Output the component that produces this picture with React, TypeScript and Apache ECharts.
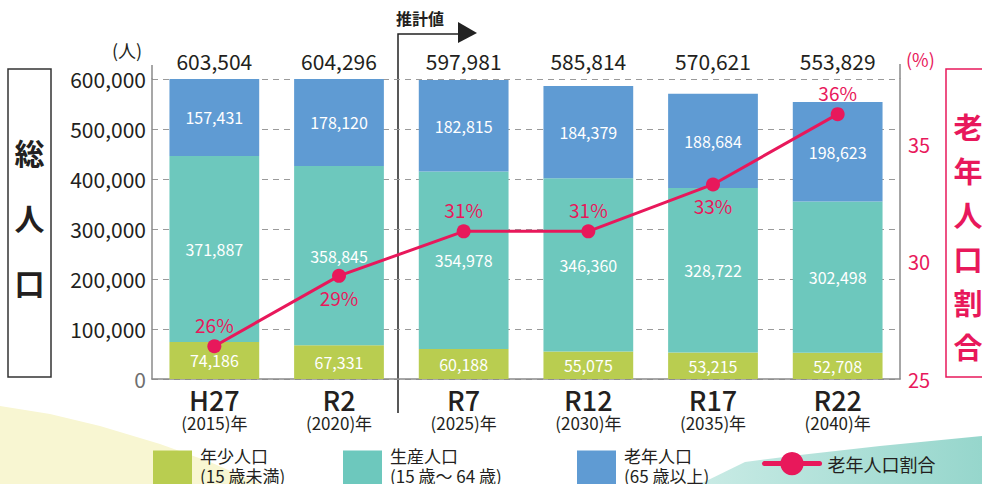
import React, { useEffect, useRef } from "react";
import * as echarts from "echarts";

const categories = ["H27", "R2", "R7", "R12", "R17", "R22"];
const years = ["2015", "2020", "2025", "2030", "2035", "2040"];
const youth = [74186, 67331, 60188, 55075, 53215, 52708];
const working = [371887, 358845, 354978, 346360, 328722, 302498];
const elderly = [157431, 178120, 182815, 184379, 188684, 198623];
const elderlyRate = [26.4, 29.4, 31.3, 31.3, 33.3, 36.3];
const rateLabelPos = ["top", "bottom", "top", "top", "bottom", "top"];
const seriesNames = ["年少人口", "生産人口", "老年人口", "老年人口割合"];
const legendSub = ["(15 歳未満)", "(15 歳〜 64 歳)", "(65 歳以上)"];

const totals = categories.map((_, i) => youth[i] + working[i] + elderly[i]);

const FONT = '"Noto Sans CJK JP", "Noto Sans", sans-serif';
const DARK = "#231f20";
const PINK = "#e8185b";
const GREEN = "#b9cd50";
const TEAL = "#6dc8bd";
const BLUE = "#5f9bd3";

const fmt = (v: number) => v.toLocaleString("en-US");

export default function App() {
  const ref = useRef<HTMLDivElement>(null);
  useEffect(() => {
    const chart = echarts.init(ref.current!, null, { renderer: "svg" });
    const barLabel = {
      show: true,
      position: "inside",
      color: "#fff",
      fontSize: 16,
      fontFamily: FONT,
      formatter: (p: any) => fmt(p.value),
    };
    const mkLegend = (idx: number, left: number) => ({
      data: [seriesNames[idx]],
      left,
      top: 442,
      icon: "rect",
      itemWidth: 39,
      itemHeight: 37,
      textStyle: {
        fontFamily: FONT,
        color: DARK,
        padding: [0, 0, 0, 3],
        rich: {
          t: { fontFamily: FONT, fontSize: 17, color: DARK, lineHeight: 20 },
          s: { fontSize: 1, lineHeight: 7 },
        },
      },
      formatter: (n: string) => `{t|${n}}\n{t|${legendSub[idx]}}\n{s| }`,
      selectedMode: false,
    });
    chart.setOption({
      animation: false,
      textStyle: { fontFamily: FONT },
      grid: { left: 152, right: 82, top: 79, bottom: 105 },
      legend: [
        mkLegend(0, 148),
        mkLegend(1, 338),
        mkLegend(2, 572),
        {
          data: [seriesNames[3]],
          left: 757,
          top: 447,
          itemWidth: 55,
          itemHeight: 29,
          lineStyle: { width: 5, cap: "round" },
          textStyle: { fontFamily: FONT, fontSize: 18, color: DARK, padding: [0, 0, 0, 3] },
          selectedMode: false,
        },
      ],
      xAxis: [
        {
          type: "category",
          data: categories,
          position: "bottom",
          axisLine: { show: true, lineStyle: { color: "#8a8a8a", width: 1.5 } },
          axisTick: { show: false },
          axisLabel: {
            margin: 6,
            formatter: (v: string, i: number) => `{a|${v}}\n{b|(${years[i]})年}`,
            rich: {
              a: { fontSize: 27, fontWeight: 500, color: DARK, fontFamily: FONT, lineHeight: 28 },
              b: { fontSize: 17, color: DARK, fontFamily: FONT, lineHeight: 18 },
            },
          },
        },
        {
          type: "category",
          data: totals.map(fmt),
          position: "top",
          axisLine: { show: false },
          axisTick: { show: false },
          axisLabel: { margin: 8, fontSize: 21, color: DARK, fontFamily: FONT },
        },
      ],
      yAxis: [
        {
          type: "value",
          min: 0,
          max: 600000,
          interval: 100000,
          axisLine: { show: true, lineStyle: { color: "#8a8a8a", width: 1.5 } },
          axisTick: { show: false },
          axisLabel: {
            margin: 6,
            fontSize: 21,
            color: DARK,
            fontFamily: FONT,
            formatter: (v: number) => (v === 0 ? "{z|0}" : fmt(v)),
            rich: { z: { fontSize: 21, color: "#6f6f6f", fontFamily: FONT } },
          },
          splitLine: { show: true, lineStyle: { color: "#9a9a9a", type: [6, 5], width: 1.2 } },
        },
        {
          type: "value",
          min: 25,
          max: 37.8,
          interval: 5,
          position: "right",
          axisLine: { show: true, lineStyle: { color: "#8a8a8a", width: 1.5 } },
          axisTick: { show: false },
          splitLine: { show: false },
          axisLabel: {
            margin: 8,
            fontSize: 20,
            color: PINK,
            fontFamily: FONT,
            showMaxLabel: false,
          },
        },
      ],
      series: [
        {
          name: seriesNames[0],
          type: "bar",
          stack: "pop",
          barWidth: "72%",
          data: youth,
          itemStyle: { color: GREEN },
          label: barLabel,
          z: 2,
        },
        {
          name: seriesNames[1],
          type: "bar",
          stack: "pop",
          data: working,
          itemStyle: { color: TEAL },
          label: barLabel,
          z: 2,
        },
        {
          name: seriesNames[2],
          type: "bar",
          stack: "pop",
          data: elderly,
          itemStyle: { color: BLUE },
          label: barLabel,
          z: 2,
        },
        {
          name: seriesNames[3],
          type: "line",
          yAxisIndex: 1,
          data: elderlyRate.map((v, i) => ({
            value: v,
            label: { position: rateLabelPos[i] },
          })),
          symbol: "circle",
          symbolSize: 14,
          itemStyle: { color: PINK },
          lineStyle: { color: PINK, width: 3 },
          z: 5,
          label: {
            show: true,
            color: PINK,
            fontSize: 19,
            fontFamily: FONT,
            distance: 5,
            formatter: (p: any) => Math.round(p.value) + "%",
          },
        },
      ],
      graphic: [
        {
          type: "polygon",
          z: -10,
          shape: {
            points: [[0, 406], [50, 414], [100, 426], [160, 444], [210, 462], [260, 484], [0, 484]],
          },
          style: { fill: "#f8f6d2" },
        },
        {
          type: "polygon",
          z: -10,
          shape: {
            points: [[700, 484], [745, 462], [800, 455], [880, 446], [982, 436], [982, 484]],
          },
          style: {
            fill: new echarts.graphic.LinearGradient(0, 0, 1, 0, [
              { offset: 0, color: "#c9ebe5" },
              { offset: 1, color: "#96d6cc" },
            ]),
          },
        },
        { type: "line", shape: { x1: 152, y1: 65, x2: 152, y2: 79 }, style: { stroke: "#8a8a8a", lineWidth: 1.5 } },
        { type: "line", shape: { x1: 900, y1: 64, x2: 900, y2: 79 }, style: { stroke: "#8a8a8a", lineWidth: 1.5 } },
        { type: "text", left: 112, top: 41, style: { text: "(人)", fontSize: 18, fill: DARK, fontFamily: FONT } },
        { type: "text", left: 906, top: 50, style: { text: "(%)", fontSize: 18, fill: PINK, fontFamily: FONT } },
        { type: "rect", shape: { x: 8, y: 69, width: 43, height: 308 }, style: { fill: "none", stroke: "#333", lineWidth: 1.5 } },
        {
          type: "text",
          x: 29.5,
          y: 217,
          style: {
            text: "総\n人\n口",
            fontSize: 30,
            fontWeight: "bold",
            lineHeight: 65,
            fill: DARK,
            fontFamily: FONT,
            align: "center",
            verticalAlign: "middle",
          },
        },
        { type: "rect", shape: { x: 946, y: 69, width: 50, height: 308 }, style: { fill: "none", stroke: PINK, lineWidth: 1.5 } },
        {
          type: "text",
          x: 968,
          y: 236,
          style: {
            text: "老\n年\n人\n口\n割\n合",
            fontSize: 29,
            fontWeight: "bold",
            lineHeight: 44,
            fill: PINK,
            fontFamily: FONT,
            align: "center",
            verticalAlign: "middle",
          },
        },
        {
          type: "polyline",
          shape: { points: [[398, 413], [398, 34], [460, 34]] },
          style: { stroke: "#222", lineWidth: 1.5, fill: "none" },
        },
        {
          type: "polygon",
          shape: { points: [[458, 22], [477, 33], [458, 43]] },
          style: { fill: "#222" },
        },
        {
          type: "text",
          left: 396,
          top: 10,
          style: { text: "推計値", fontSize: 16, fontWeight: "bold", fill: DARK, fontFamily: FONT },
        },
      ],
    });
    return () => chart.dispose();
  }, []);
  return (
    <div
      ref={ref}
      style={{ position: "fixed", left: 0, top: 0, width: 982, height: 484, background: "#fff" }}
    />
  );
}
